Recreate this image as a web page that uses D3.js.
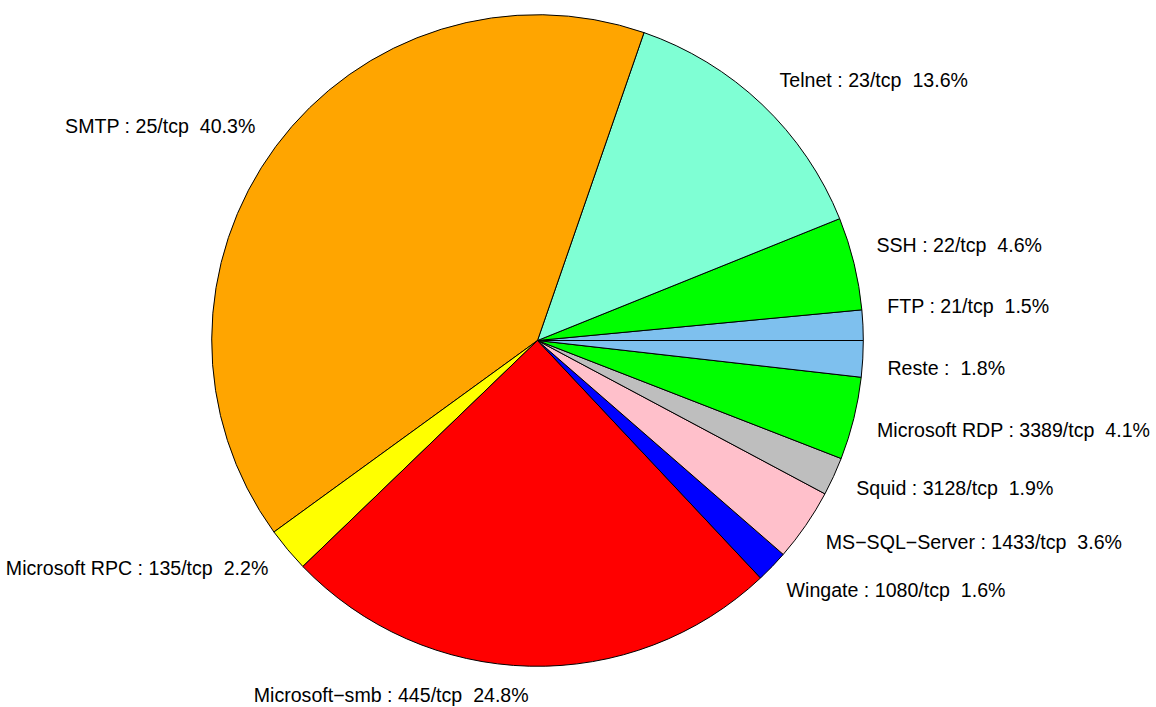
<!DOCTYPE html>
<html>
<head>
<meta charset="utf-8">
<script src="https://cdn.jsdelivr.net/npm/d3@7"></script>
<style>
  html, body { margin: 0; padding: 0; background: #ffffff; }
  svg { display: block; }
  text { font-family: "Liberation Sans", Arial, Helvetica, sans-serif; white-space: pre; }
</style>
</head>
<body>
<svg id="chart" width="1156" height="707"></svg>
<script>
// Slices in drawing order (counter-clockwise from 3 o'clock, as R's pie())
const categories = [
  "FTP : 21/tcp", "SSH : 22/tcp", "Telnet : 23/tcp", "SMTP : 25/tcp",
  "Microsoft RPC : 135/tcp", "Microsoft\u2212smb : 445/tcp", "Wingate : 1080/tcp",
  "MS\u2212SQL\u2212Server : 1433/tcp", "Squid : 3128/tcp", "Microsoft RDP : 3389/tcp", "Reste :"
];
const percents = [1.5, 4.6, 13.6, 40.3, 2.2, 24.8, 1.6, 3.6, 1.9, 4.1, 1.8];
const colors = [
  "#7EC0EE", "#00FF00", "#7FFFD4", "#FFA500", "#FFFF00", "#FF0000",
  "#0000FF", "#FFC0CB", "#BEBEBE", "#00FF00", "#7EC0EE"
];

const W = 1156, H = 707;
const cx = 537.5, cy = 340.5, R = 325.8;
const labelRx = R * 1.078, labelRy = R * 1.095;
const fontSize = 19.6;
const minGapDeg = 10;

const svg = d3.select("#chart");
const g = svg.append("g").attr("transform", `translate(${cx},${cy})`);

const data = categories.map((c, i) => ({ label: c, value: percents[i], color: colors[i] }));

const pie = d3.pie()
  .value(d => d.value)
  .sort(null)
  .startAngle(Math.PI / 2)
  .endAngle(Math.PI / 2 - 2 * Math.PI);

const arcs = pie(data);
const arc = d3.arc().innerRadius(0).outerRadius(R);

g.selectAll("path.slice")
  .data(arcs)
  .join("path")
  .attr("class", "slice")
  .attr("d", arc)
  .attr("fill", d => d.data.color)
  .attr("stroke", "#000")
  .attr("stroke-width", 1)
  .attr("stroke-linejoin", "round");

// label layout: mid-angle, then minimal angular spreading per side (isotonic / PAV)
const toDeg = 180 / Math.PI;
const labels = arcs.map(a => {
  const m = (a.startAngle + a.endAngle) / 2;        // d3 angle, clockwise from 12 o'clock
  const x = Math.sin(m);
  const side = x < -1e-9 ? "L" : "R";
  let theta = 90 - m * toDeg;                          // math angle, ccw from 3 o'clock
  theta = ((theta + 180) % 360 + 360) % 360 - 180;
  const elev = side === "R" ? theta : (theta > 0 ? 180 - theta : -180 - theta);
  return { a, side, elev,
    text: a.data.label + "  " + d3.format(".1f")(a.data.value) + "%" };
});

["L", "R"].forEach(side => {
  const grp = labels.filter(l => l.side === side).sort((p, q) => q.elev - p.elev);
  const blocks = [];
  grp.forEach((l, i) => {
    blocks.push({ sum: l.elev + minGapDeg * i, n: 1, items: [i] });
    while (blocks.length > 1) {
      const b = blocks[blocks.length - 1], p = blocks[blocks.length - 2];
      if (p.sum / p.n < b.sum / b.n) {
        p.sum += b.sum; p.n += b.n; p.items = p.items.concat(b.items);
        blocks.pop();
      } else break;
    }
  });
  blocks.forEach(b => {
    const v = b.sum / b.n;
    b.items.forEach(i => { grp[i].elev2 = v - minGapDeg * i; });
  });
});

labels.forEach(l => {
  const e = l.elev2 / toDeg;
  const dx = Math.cos(e) * labelRx;
  l.x = l.side === "R" ? dx : -dx;
  l.y = -Math.sin(e) * labelRy;
});

g.selectAll("text.lab")
  .data(labels)
  .join("text")
  .attr("class", "lab")
  .attr("x", d => d.x)
  .attr("y", d => d.y)
  .attr("dy", "0.25em")
  .attr("text-anchor", d => d.side === "L" ? "end" : "start")
  .attr("font-size", fontSize)
  .attr("fill", "#000")
  .text(d => d.text);
</script>
</body>
</html>
